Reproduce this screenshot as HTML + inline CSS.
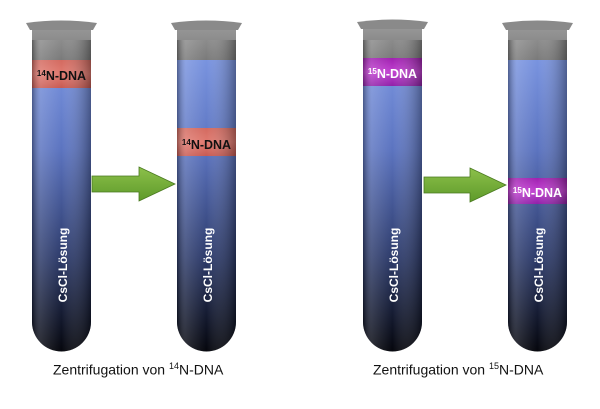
<!DOCTYPE html><html><head><meta charset="utf-8"><style>
body{margin:0;background:#fff;width:600px;height:409px;overflow:hidden;position:relative;font-family:"Liberation Sans",sans-serif}
.cap{position:absolute;top:361px;font-size:14px;color:#111}
.lab{font-family:"Liberation Sans",sans-serif;font-weight:bold}
</style></head><body>
<svg width="600" height="409" style="position:absolute;left:0;top:0">
<defs>
<linearGradient id="liq" x1="0" y1="0" x2="0" y2="1">
<stop offset="0" stop-color="#7f9ae6"/><stop offset="0.35" stop-color="#5c74c0"/><stop offset="0.7" stop-color="#2c3a6a"/><stop offset="1" stop-color="#05060c"/></linearGradient>
<linearGradient id="sh" x1="0" y1="0" x2="1" y2="0">
<stop offset="0" stop-color="#000" stop-opacity="0.35"/><stop offset="0.15" stop-color="#fff" stop-opacity="0.15"/><stop offset="0.5" stop-color="#fff" stop-opacity="0"/><stop offset="1" stop-color="#000" stop-opacity="0.35"/></linearGradient>
<linearGradient id="gl" x1="0" y1="0" x2="0" y2="1"><stop offset="0" stop-color="#9a9a9a"/><stop offset="1" stop-color="#7a7a7a"/></linearGradient>
<linearGradient id="red" x1="0" y1="0" x2="0" y2="1"><stop offset="0" stop-color="#d36a60"/><stop offset="0.5" stop-color="#e07a70"/><stop offset="1" stop-color="#c85a52"/></linearGradient>
<linearGradient id="mag" x1="0" y1="0" x2="0" y2="1"><stop offset="0" stop-color="#a020b0"/><stop offset="0.5" stop-color="#c040d0"/><stop offset="1" stop-color="#9020a8"/></linearGradient>
<linearGradient id="ar" x1="0" y1="0" x2="0" y2="1"><stop offset="0" stop-color="#8cc04a"/><stop offset="1" stop-color="#5e9a2a"/></linearGradient>
</defs>
<!-- tube helper: x, liquid top, band y -->
<g id="t1">
<path d="M32 40 V322 a29.5 29.5 0 0 0 59 0 V40 Z" fill="url(#liq)"/>
<path d="M32 24 H91 V60 H32 Z" fill="url(#gl)"/>
<path d="M26 23 Q61 18 97 23 L93 30 H30 Z" fill="#8a8a8a"/>
<rect x="32" y="60" width="59" height="28" fill="url(#red)"/>
<path d="M32 40 V322 a29.5 29.5 0 0 0 59 0 V40 Z" fill="url(#sh)"/>
<text x="61.5" y="80" text-anchor="middle" font-size="12.5" class="lab" fill="#111"><tspan font-size="8" dy="-4">14</tspan><tspan dy="4">N-DNA</tspan></text>
<text transform="translate(67,265) rotate(-90)" text-anchor="middle" font-size="12" class="lab" fill="#fff">CsCl-Lösung</text>
</g>
<g>
<path d="M177 40 V322 a29.5 29.5 0 0 0 59 0 V40 Z" fill="url(#liq)"/>
<path d="M177 24 H236 V60 H177 Z" fill="url(#gl)"/>
<path d="M171 23 Q206 18 242 23 L238 30 H175 Z" fill="#8a8a8a"/>
<rect x="177" y="128" width="59" height="28" fill="url(#red)"/>
<path d="M177 40 V322 a29.5 29.5 0 0 0 59 0 V40 Z" fill="url(#sh)"/>
<text x="206.5" y="149" text-anchor="middle" font-size="12.5" class="lab" fill="#111"><tspan font-size="8" dy="-4">14</tspan><tspan dy="4">N-DNA</tspan></text>
<text transform="translate(212,265) rotate(-90)" text-anchor="middle" font-size="12" class="lab" fill="#fff">CsCl-Lösung</text>
</g>
<g>
<path d="M363 40 V322 a29.5 29.5 0 0 0 59 0 V40 Z" fill="url(#liq)"/>
<path d="M363 24 H422 V58 H363 Z" fill="url(#gl)"/>
<path d="M357 22 Q392 17 428 22 L424 29 H361 Z" fill="#8a8a8a"/>
<rect x="363" y="58" width="59" height="28" fill="url(#mag)"/>
<path d="M363 40 V322 a29.5 29.5 0 0 0 59 0 V40 Z" fill="url(#sh)"/>
<text x="392.5" y="78" text-anchor="middle" font-size="12.5" class="lab" fill="#fff"><tspan font-size="8" dy="-4">15</tspan><tspan dy="4">N-DNA</tspan></text>
<text transform="translate(398,265) rotate(-90)" text-anchor="middle" font-size="12" class="lab" fill="#fff">CsCl-Lösung</text>
</g>
<g>
<path d="M508 40 V322 a29.5 29.5 0 0 0 59 0 V40 Z" fill="url(#liq)"/>
<path d="M508 24 H567 V60 H508 Z" fill="url(#gl)"/>
<path d="M502 23 Q537 18 573 23 L569 30 H506 Z" fill="#8a8a8a"/>
<rect x="508" y="178" width="59" height="26" fill="url(#mag)"/>
<path d="M508 40 V322 a29.5 29.5 0 0 0 59 0 V40 Z" fill="url(#sh)"/>
<text x="537.5" y="197" text-anchor="middle" font-size="12.5" class="lab" fill="#fff"><tspan font-size="8" dy="-4">15</tspan><tspan dy="4">N-DNA</tspan></text>
<text transform="translate(543,265) rotate(-90)" text-anchor="middle" font-size="12" class="lab" fill="#fff">CsCl-Lösung</text>
</g>
<path d="M92 176 H139 V167 L175 184 L139 201 V192 H92 Z" fill="url(#ar)" stroke="#4a7a20" stroke-width="0.8"/>
<path d="M424 177 H470 V168 L506 185 L470 202 V193 H424 Z" fill="url(#ar)" stroke="#4a7a20" stroke-width="0.8"/>
</svg>
<div class="cap" style="left:53px">Zentrifugation von <sup style="font-size:9px">14</sup>N-DNA</div>
<div class="cap" style="left:373px">Zentrifugation von <sup style="font-size:9px">15</sup>N-DNA</div>
</body></html>
